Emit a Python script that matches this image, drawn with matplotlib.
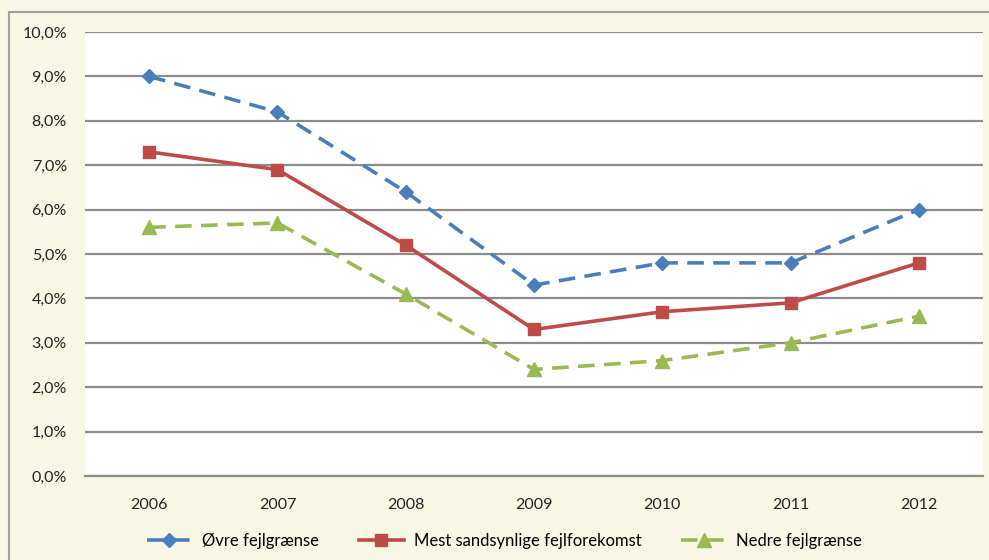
import numpy as np
import matplotlib
matplotlib.use("Agg")
import matplotlib.pyplot as plt
from matplotlib.lines import Line2D
from matplotlib.ticker import FuncFormatter

years = ["2006", "2007", "2008", "2009", "2010", "2011", "2012"]
ovre = [9.0, 8.2, 6.4, 4.3, 4.8, 4.8, 6.0]
mest = [7.3, 6.9, 5.2, 3.3, 3.7, 3.9, 4.8]
nedre = [5.6, 5.7, 4.1, 2.4, 2.6, 3.0, 3.6]

bg = "#F8F7E3"
plt.rcParams["font.family"] = ["Lato", "DejaVu Sans"]

fig = plt.figure(figsize=(9.89, 5.6), dpi=100, facecolor=bg)
ax = fig.add_axes([85 / 989, 1 - 476 / 560, 898 / 989, 444 / 560])
ax.set_facecolor("white")

x = np.arange(len(years)) + 0.5
ax.plot(x, ovre, color="#4A7EBB", lw=2.6, dashes=(4.6, 2.6), marker="D", ms=7.5,
        label="Øvre fejlgrænse")
ax.plot(x, mest, color="#BE4B48", lw=2.6, marker="s", ms=8.5,
        label="Mest sandsynlige fejlforekomst")
ax.plot(x, nedre, color="#98B954", lw=2.6, dashes=(4.6, 2.6), marker="^", ms=9.5,
        label="Nedre fejlgrænse")

ax.set_xlim(0, 7)
ax.set_ylim(0, 10)
ax.set_xticks(x)
ax.set_xticklabels(years)
ax.set_yticks(np.arange(0, 11, 1))
ax.yaxis.set_major_formatter(FuncFormatter(lambda v, p: f"{v:.1f}%".replace(".", ",")))
ax.tick_params(length=0, labelsize=11.5, colors="#222222")
ax.tick_params(axis="x", pad=16)
ax.tick_params(axis="y", pad=13)
ax.grid(axis="y", color="#8C8C8C", lw=1.6)
ax.set_axisbelow(True)
for s in ax.spines.values():
    s.set_visible(False)
ax.spines["bottom"].set_visible(True)
ax.spines["bottom"].set_color("#8C8C8C")
ax.spines["bottom"].set_linewidth(1.6)

# outer chart frame (cropped)
fig.add_artist(Line2D([9 / 989, 9 / 989], [0, 1 - 12 / 560], transform=fig.transFigure,
                      color="#A0A0A0", lw=1.5))
fig.add_artist(Line2D([9 / 989, 1], [1 - 12 / 560, 1 - 12 / 560], transform=fig.transFigure,
                      color="#A0A0A0", lw=1.5))

fig.legend(loc="center", bbox_to_anchor=(0.51, 1 - 541 / 560), ncol=3, frameon=False,
           fontsize=12, handlelength=2.7, columnspacing=2.4, handletextpad=0.6)

fig.savefig("out.png", dpi=100, facecolor=bg)
